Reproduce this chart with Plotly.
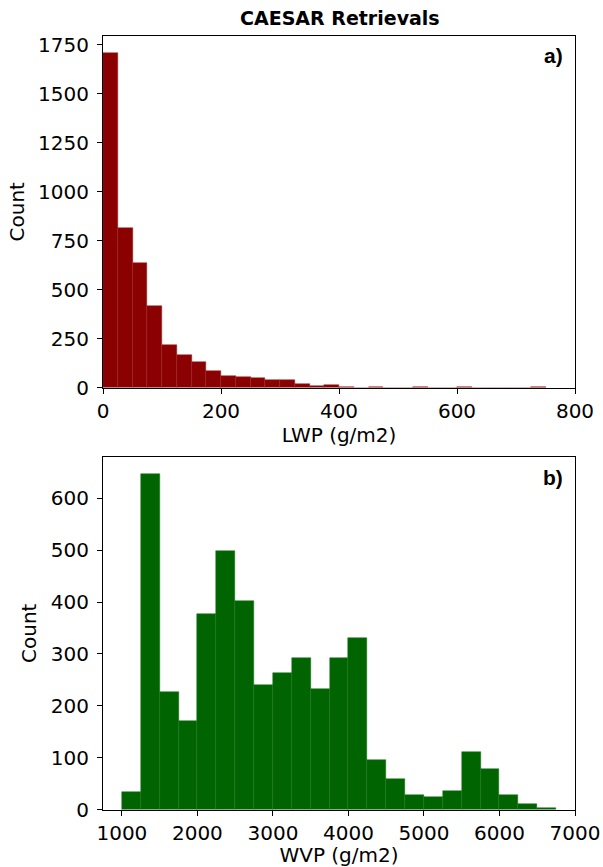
import plotly.graph_objects as go

# ---- Data ----
lwp_edges = [0 + 25 * i for i in range(31)]  # 0..750
lwp_counts = [1710, 815, 638, 415, 216, 165, 131, 85, 61, 56, 46, 39, 40, 17, 7,
              12, 5, 0, 4, 0, 0, 4, 0, 0, 4, 0, 0, 0, 0, 4]
wvp_edges = [1000 + 250 * i for i in range(24)]  # 1000..6750
wvp_counts = [34, 648, 226, 171, 378, 499, 402, 240, 263, 292, 232, 292, 330,
              95, 58, 28, 25, 35, 110, 78, 28, 10, 2]

lwp_ticks = [0, 200, 400, 600, 800]
lwp_yticks = [0, 250, 500, 750, 1000, 1250, 1500, 1750]
wvp_ticks = [1000, 2000, 3000, 4000, 5000, 6000, 7000]
wvp_yticks = [0, 100, 200, 300, 400, 500, 600]

def centers(edges):
    return [(edges[i] + edges[i + 1]) / 2 for i in range(len(edges) - 1)]

def widths(edges):
    return [edges[i + 1] - edges[i] for i in range(len(edges) - 1)]

W, H = 603, 867
FONT = "DejaVu Sans"
fs = 20

fig = go.Figure()
fig.add_trace(go.Bar(x=centers(lwp_edges), y=lwp_counts, width=widths(lwp_edges),
                     marker=dict(color="#8b0000", line=dict(color="#9a2020", width=0.5)),
                     xaxis="x", yaxis="y", showlegend=False))
fig.add_trace(go.Bar(x=centers(wvp_edges), y=wvp_counts, width=widths(wvp_edges),
                     marker=dict(color="#006400", line=dict(color="#1a741a", width=0.5)),
                     xaxis="x2", yaxis="y2", showlegend=False))

xd = [103 / W, 575 / W]
top_d = [(H - 387.5) / H, (H - 36) / H]
bot_d = [(H - 809.5) / H, (H - 457) / H]

axis_common = dict(showline=True, linecolor="black", linewidth=1, mirror=True,
                   ticks="outside", ticklen=5, tickwidth=1, tickcolor="black",
                   showgrid=False, zeroline=False, automargin=False,
                   tickfont=dict(family=FONT, size=fs, color="black"))

fig.update_layout(
    width=W, height=H,
    margin=dict(l=0, r=0, t=0, b=0),
    paper_bgcolor="white", plot_bgcolor="white",
    bargap=0,
    font=dict(family=FONT, size=fs, color="black"),
    xaxis=dict(domain=xd, anchor="y", range=[0, 800], tickvals=lwp_ticks, ticklabelstandoff=0,
               title=dict(text="LWP (g/m2)", standoff=6, font=dict(family=FONT, size=fs)),
               **axis_common),
    yaxis=dict(domain=top_d, anchor="x", range=[0, 1795], tickvals=lwp_yticks, ticklabelstandoff=4,
               title=dict(text="Count", standoff=8, font=dict(family=FONT, size=fs)),
               **axis_common),
    xaxis2=dict(domain=xd, anchor="y2", range=[750, 7000], tickvals=wvp_ticks, ticklabelstandoff=0,
                title=dict(text="WVP (g/m2)", standoff=6, font=dict(family=FONT, size=fs)),
                **axis_common),
    yaxis2=dict(domain=bot_d, anchor="x2", range=[0, 680], tickvals=wvp_yticks, ticklabelstandoff=4,
                title=dict(text="Count", standoff=8, font=dict(family=FONT, size=fs)),
                **axis_common),
    annotations=[
        dict(text="<b>CAESAR Retrievals</b>", x=340 / W, y=1 - 18 / H, xref="paper", yref="paper",
             xanchor="center", yanchor="middle", showarrow=False,
             font=dict(family=FONT, size=19, color="black")),
        dict(text="<b>a)</b>", x=565 / W, y=1 - 56 / H, xref="paper", yref="paper",
             xanchor="right", yanchor="middle", showarrow=False,
             font=dict(family="Liberation Sans", size=21, color="black")),
        dict(text="<b>b)</b>", x=565 / W, y=1 - 477 / H, xref="paper", yref="paper",
             xanchor="right", yanchor="middle", showarrow=False,
             font=dict(family="Liberation Sans", size=21, color="black")),
    ],
)

fig.write_html("out.html")
